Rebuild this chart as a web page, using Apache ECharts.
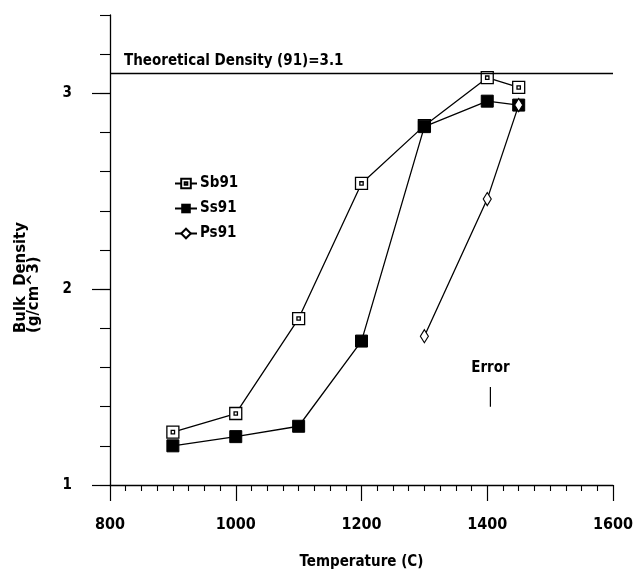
<!DOCTYPE html>
<html>
<head>
<meta charset="utf-8">
<script src="https://cdn.jsdelivr.net/npm/echarts@6/dist/echarts.min.js"></script>
<style>
  html, body { margin: 0; padding: 0; background: #ffffff; }
  #chart { width: 633px; height: 572px; }
</style>
</head>
<body>
<div id="chart"></div>
<script>
// temperatures (C)
const tempsS = [900, 1000, 1100, 1200, 1300, 1400, 1450]
const tempsP = [1300, 1400, 1450]
// bulk density (g/cm^3)
const sb91 = [1.27, 1.365, 1.85, 2.54, 2.835, 3.08, 3.03]
const ss91 = [1.20, 1.247, 1.30, 1.735, 2.83, 2.96, 2.94]
const ps91 = [1.76, 2.46, 2.94]
const theoretical = 3.1
// error bar, as placed in the figure
const errorX = 1405
const errorRange = [1.40, 1.50]
const yMajorTicks = [1, 2, 3]

const FONT = "'Liberation Sans Narrow', 'DejaVu Sans Condensed', 'Arial Narrow', sans-serif"
const black = '#000000'

function pairs(xs, ys) {
  return xs.map((x, i) => [x, ys[i]])
}

const chart = echarts.init(document.getElementById('chart'))

const lineBase = {
  type: 'line',
  yAxisIndex: 0,
  lineStyle: { color: black, width: 1.3 },
  z: 3
}

chart.setOption({
  backgroundColor: '#ffffff',
  animation: false,
  textStyle: { fontFamily: FONT, fontWeight: 'bold', color: black },
  grid: { left: 110, right: 20, top: 15, bottom: 87, containLabel: false, outerBoundsMode: 'none' },
  legend: {
    data: ['Sb91', 'Ss91', 'Ps91'],
    orient: 'vertical',
    left: 169,
    top: 171,
    itemWidth: 22,
    itemHeight: 12,
    itemGap: 10,
    textStyle: { fontFamily: FONT, fontWeight: 'bold', fontSize: 15, color: black, padding: [0, 0, 0, -2] }
  },
  xAxis: {
    type: 'value',
    min: 800,
    max: 1600,
    interval: 200,
    name: 'Temperature (C)',
    nameLocation: 'middle',
    nameGap: 70,
    nameTextStyle: { fontFamily: FONT, fontWeight: 'bold', fontSize: 15, color: black },
    axisLine: { lineStyle: { color: black, width: 1.3 } },
    axisTick: { inside: false, length: 16, lineStyle: { color: black, width: 1.2 } },
    minorTick: { show: true, splitNumber: 8, length: 6, lineStyle: { color: black, width: 1.1 } },
    axisLabel: {
      margin: 32,
      fontFamily: FONT,
      fontWeight: 'bold',
      fontSize: 16,
      color: black,
      formatter: v => String(v)
    },
    splitLine: { show: false }
  },
  yAxis: [
    {
      type: 'value',
      min: 1,
      max: 3.4,
      interval: 0.2,
      name: 'Bulk  Density\n(g/cm^3)',
      nameLocation: 'middle',
      nameGap: 70,
      nameRotate: 90,
      nameTextStyle: {
        fontFamily: FONT,
        fontWeight: 'bold',
        fontSize: 16.5,
        lineHeight: 13,
        color: black,
        align: 'left',
        padding: [0, 0, 0, -83]
      },
      axisLine: { show: true, lineStyle: { color: black, width: 1.3 } },
      axisTick: { show: true, inside: false, length: 10, lineStyle: { color: black, width: 1.1 } },
      axisLabel: { show: false },
      splitLine: { show: false }
    },
    {
      type: 'value',
      min: 1,
      max: 3.4,
      interval: 0.2,
      position: 'left',
      axisLine: { show: false },
      axisTick: { show: true, inside: false, length: 18, customValues: yMajorTicks, lineStyle: { color: black, width: 1.2 } },
      axisLabel: { show: true, margin: 38, customValues: yMajorTicks, fontFamily: FONT, fontWeight: 'bold', fontSize: 15, color: black },
      splitLine: { show: false }
    }
  ],
  series: [
    Object.assign({}, lineBase, {
      name: 'Sb91',
      data: pairs(tempsS, sb91),
      symbol: 'path://M0,0H10V10H0Z M3.6,3.6H6.4V6.4H3.6Z',
      symbolSize: 12,
      itemStyle: { color: '#ffffff', borderColor: black, borderWidth: 1.3 },
      markLine: {
        silent: true,
        symbol: ['none', 'none'],
        lineStyle: { color: black, width: 1.3, type: 'solid' },
        label: {
          show: true,
          position: 'insideStartTop',
          formatter: 'Theoretical Density (91)=3.1',
          fontFamily: FONT,
          fontWeight: 'bold',
          fontSize: 15,
          color: black,
          distance: [14, 5]
        },
        data: [{ yAxis: theoretical }]
      }
    }),
    Object.assign({}, lineBase, {
      name: 'Ss91',
      data: pairs(tempsS, ss91),
      symbol: 'rect',
      symbolSize: 12,
      itemStyle: { color: black, borderColor: black }
    }),
    Object.assign({}, lineBase, {
      name: 'Ps91',
      data: pairs(tempsP, ps91),
      symbol: 'diamond',
      symbolSize: [8, 13],
      itemStyle: { color: '#ffffff', borderColor: black, borderWidth: 1.2 },
      z: 4
    }),
    {
      name: 'Error',
      type: 'line',
      yAxisIndex: 0,
      symbol: 'circle',
      symbolSize: 0,
      lineStyle: { color: black, width: 1.2 },
      data: [
        [errorX, errorRange[0]],
        {
          value: [errorX, errorRange[1]],
          label: {
            show: true,
            position: 'top',
            distance: 11,
            formatter: 'Error',
            fontFamily: FONT,
            fontWeight: 'bold',
            fontSize: 15,
            color: black
          }
        }
      ]
    }
  ]
})
</script>
</body>
</html>
